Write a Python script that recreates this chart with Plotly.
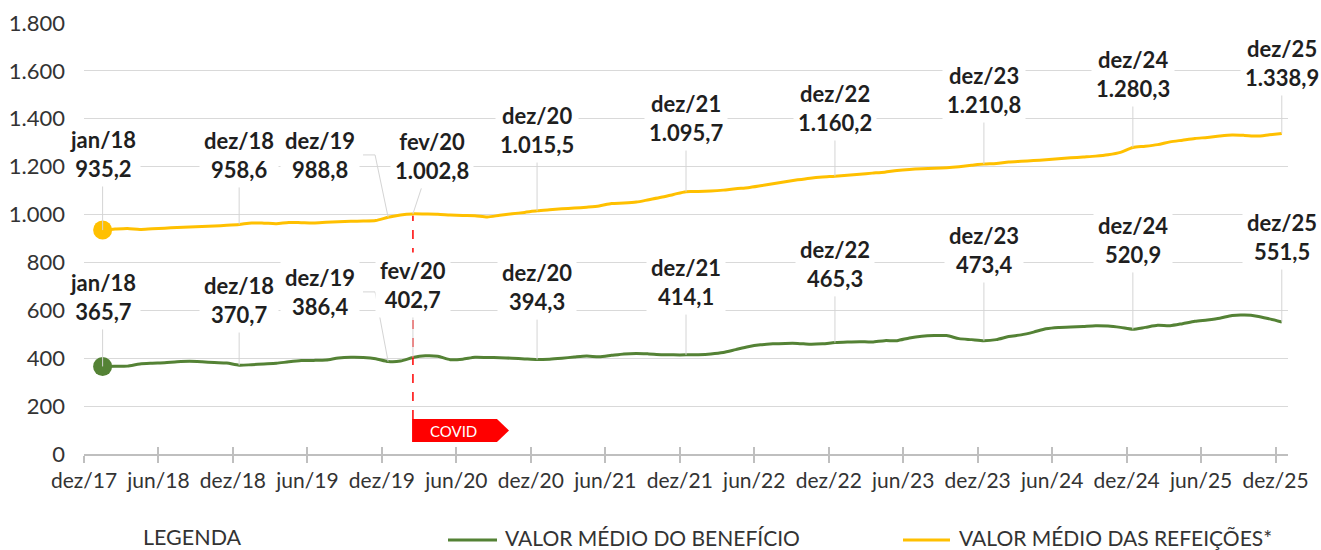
import plotly.graph_objects as go

# meses (jan/18 .. dez/25)
MESES_PT = ["jan", "fev", "mar", "abr", "mai", "jun", "jul", "ago", "set", "out", "nov", "dez"]
months = [f"{MESES_PT[m]}/{y}" for y in range(18, 26) for m in range(12)]

refeicoes = [
    935.2, 939.4, 942.0, 938.0, 941.0, 943.0, 946.0, 948.0, 950.0, 952.0, 955.0, 958.6,
    964.8, 964.0, 962.0, 967.0, 966.0, 965.0, 967.6, 970.0, 972.0, 973.0, 975.0, 988.8,
    998.6, 1002.8, 1002.0, 1001.0, 998.0, 996.0, 995.0, 990.0, 997.0, 1003.0, 1009.0, 1015.5,
    1020.0, 1024.0, 1027.0, 1031.0, 1036.0, 1046.0, 1048.0, 1052.0, 1062.0, 1072.0, 1084.0, 1095.7,
    1096.0, 1098.0, 1102.0, 1108.0, 1112.0, 1120.0, 1129.0, 1137.0, 1145.0, 1152.0, 1157.0, 1160.2,
    1164.5, 1168.7, 1173.0, 1177.0, 1184.0, 1188.6, 1191.4, 1193.0, 1195.7, 1200.0, 1205.6, 1210.8,
    1213.5, 1219.8, 1222.7, 1225.5, 1229.0, 1232.6, 1236.9, 1240.4, 1244.0, 1249.7, 1259.6, 1280.3,
    1285.0, 1292.0, 1303.6, 1310.7, 1317.8, 1322.0, 1327.8, 1332.0, 1330.6, 1327.8, 1333.4, 1338.9,
]

beneficio = [
    365.7, 366.0, 367.0, 376.0, 379.0, 381.0, 385.0, 387.0, 385.0, 382.0, 380.0, 370.7,
    373.0, 376.0, 379.0, 385.0, 390.0, 391.0, 393.0, 401.0, 404.0, 403.0, 398.0, 386.4,
    388.0, 402.7, 410.0, 408.0, 394.0, 396.0, 404.0, 403.0, 402.0, 400.0, 397.0, 394.3,
    396.0, 400.0, 405.0, 409.0, 406.0, 412.0, 418.0, 420.0, 418.0, 415.0, 414.0, 414.1,
    415.0, 418.0, 424.0, 436.0, 448.0, 456.0, 460.0, 462.0, 462.0, 458.0, 460.0, 465.3,
    467.7, 469.0, 467.7, 473.4, 473.4, 484.8, 491.9, 494.7, 494.7, 481.9, 477.7, 473.4,
    477.7, 490.4, 497.5, 509.0, 523.0, 528.8, 530.2, 533.0, 535.9, 534.5, 528.8, 520.9,
    528.8, 537.3, 535.9, 544.4, 554.3, 560.0, 567.0, 578.5, 580.0, 575.6, 564.3, 551.5,
]

callout_months = ["jan/18", "dez/18", "dez/19", "fev/20", "dez/20", "dez/21",
                  "dez/22", "dez/23", "dez/24", "dez/25"]
tick_labels = ["dez/17", "jun/18", "dez/18", "jun/19", "dez/19", "jun/20", "dez/20", "jun/21",
               "dez/21", "jun/22", "dez/22", "jun/23", "dez/23", "jun/24", "dez/24", "jun/25", "dez/25"]

YELLOW = "#FFC000"
GREEN = "#548235"
TXT = "#1f1f1f"
FONT = "Lato"

x = list(range(1, len(months) + 1))  # jan/18 = 1, dez/17 = 0
pos = {m: i + 1 for i, m in enumerate(months)}


def fmt(v):
    return f"{v:,.1f}".replace(",", "X").replace(".", ",").replace("X", ".")


# plot area in window pixels
W, H = 1321, 550
L, R, T, B = 84, 1288, 23, 454
LEG_Y = 537


def px(xp):
    return (xp - L) / (R - L)


def py(yp):
    return (B - yp) / (B - T)


fig = go.Figure()
fig.add_trace(go.Scatter(x=x, y=beneficio, mode="lines", line=dict(color=GREEN, width=3, shape="spline", smoothing=0.7),
                         showlegend=False, hoverinfo="skip"))
fig.add_trace(go.Scatter(x=x, y=refeicoes, mode="lines", line=dict(color=YELLOW, width=3, shape="spline", smoothing=0.7),
                         showlegend=False, hoverinfo="skip"))
fig.add_trace(go.Scatter(x=[x[0]], y=[beneficio[0]], mode="markers", marker=dict(color=GREEN, size=19),
                         showlegend=False, hoverinfo="skip"))
fig.add_trace(go.Scatter(x=[x[0]], y=[refeicoes[0]], mode="markers", marker=dict(color=YELLOW, size=19),
                         showlegend=False, hoverinfo="skip"))
# dummy trace to get inside tick marks on the x axis
fig.add_trace(go.Scatter(x=[], y=[], xaxis="x2", showlegend=False))

# label positions (x index, y in data units) for each callout
lab_y_ref = [1253, 1249, 1249, 1245, 1353, 1403, 1445, 1520, 1587, 1633]
lab_y_ben = [656, 643, 677, 706, 697, 718, 794, 852, 894, 906]
lab_x_shift = {"dez/19": -5.5, "fev/20": 1.54}

annotations = []
for series, lab_ys, is_green in ((refeicoes, lab_y_ref, False), (beneficio, lab_y_ben, True)):
    for m, ly in zip(callout_months, lab_ys):
        xi = pos[m]
        v = series[xi - 1]
        shift = lab_x_shift.get(m, 0)
        if is_green and m == "fev/20":
            shift = 0
        label = dict(text=f"<b>{m}<br>{fmt(v)}</b>",
                     font=dict(family=FONT, size=22, color=TXT),
                     bgcolor="white", borderpad=4)
        if m == "dez/19":
            label.update(x=xi + shift, y=ly, xref="x", yref="y", showarrow=False)
        else:
            label.update(x=xi, y=v, xref="x", yref="y",
                         ax=xi + shift, ay=ly, axref="x", ayref="y",
                         showarrow=True, arrowhead=0, arrowwidth=1, arrowcolor="#d4d4d4")
        annotations.append(label)

# COVID tag
annotations.append(dict(x=29.3, y=98, xref="x", yref="y", text="COVID", showarrow=False,
                        font=dict(family=FONT, size=15, color="white")))

# legend
leg_font = dict(family=FONT, size=21, color="#333333")
annotations.append(dict(x=px(192), y=py(LEG_Y), xref="paper", yref="paper", text="LEGENDA",
                        showarrow=False, xanchor="center", yanchor="middle",
                        font=dict(family=FONT, size=21.5, color="#333333")))
annotations.append(dict(x=px(503), y=py(LEG_Y), xref="paper", yref="paper", text="VALOR MÉDIO DO BENEFÍCIO",
                        showarrow=False, xanchor="left", yanchor="middle", font=leg_font))
annotations.append(dict(x=px(957), y=py(LEG_Y), xref="paper", yref="paper", text="VALOR MÉDIO DAS REFEIÇÕES*",
                        showarrow=False, xanchor="left", yanchor="middle", font=leg_font))

shapes = [
    # covid line and tag
    dict(type="line", x0=26, x1=26, y0=146, y1=995, xref="x", yref="y",
         line=dict(color="#FF0000", width=1.5, dash="dash")),
    dict(type="path", path="M 25.93,146 L 32.77,146 L 33.74,98 L 32.77,50 L 25.93,50 Z",
         xref="x", yref="y", fillcolor="#FF0000", line=dict(width=0)),
    # elbow leaders for dez/19
    dict(type="path", path=f"M 21.98,1249 L 22.95,1249 L 24,{refeicoes[pos['dez/19'] - 1]}",
         xref="x", yref="y", line=dict(color="#d4d4d4", width=1)),
    dict(type="path", path=f"M 21.98,677 L 22.95,677 L 24,{beneficio[pos['dez/19'] - 1]}",
         xref="x", yref="y", line=dict(color="#d4d4d4", width=1)),
    # legend samples
    dict(type="line", x0=px(448), x1=px(497), y0=py(540), y1=py(540), xref="paper", yref="paper",
         line=dict(color=GREEN, width=3)),
    dict(type="line", x0=px(903), x1=px(950), y0=py(540), y1=py(540), xref="paper", yref="paper",
         line=dict(color=YELLOW, width=3)),
]

tickvals = [k - 0.5 for k in range(0, 97, 6)]

fig.update_layout(
    width=W, height=H,
    margin=dict(l=L, r=W - R, t=T, b=H - B),
    paper_bgcolor="white", plot_bgcolor="white",
    separators=",.",
    font=dict(family=FONT, color=TXT),
    showlegend=False,
    annotations=annotations,
    shapes=shapes,
    xaxis=dict(range=[-0.5, 96.5], tickvals=tickvals, ticktext=tick_labels, automargin=False,
               showgrid=False, zeroline=False, showline=True, linecolor="#bfbfbf", linewidth=2,
               ticks="outside", ticklen=7, tickcolor="#bfbfbf", tickwidth=1.5,
               tickfont=dict(family=FONT, size=21, color="#333333")),
    xaxis2=dict(range=[-0.5, 96.5], tickvals=tickvals, overlaying="x", anchor="y", side="bottom",
                automargin=False, showgrid=False, zeroline=False, showline=False, showticklabels=False,
                ticks="inside", ticklen=7, tickcolor="#bfbfbf", tickwidth=1.5),
    yaxis=dict(range=[0, 1800], dtick=200, tickformat=",.0f", showgrid=True, gridcolor="#d9d9d9",
               automargin=False, gridwidth=1, zeroline=False, showline=False, ticks="",
               ticklabelstandoff=18, tickfont=dict(family=FONT, size=22, color="#333333")),
)

# page without body margin / scrollbars so the figure fills the window exactly
page_css = "document.body.style.margin='0';document.body.style.overflow='hidden';"
fig.write_html("out.html", post_script=page_css, config={"displayModeBar": False})
